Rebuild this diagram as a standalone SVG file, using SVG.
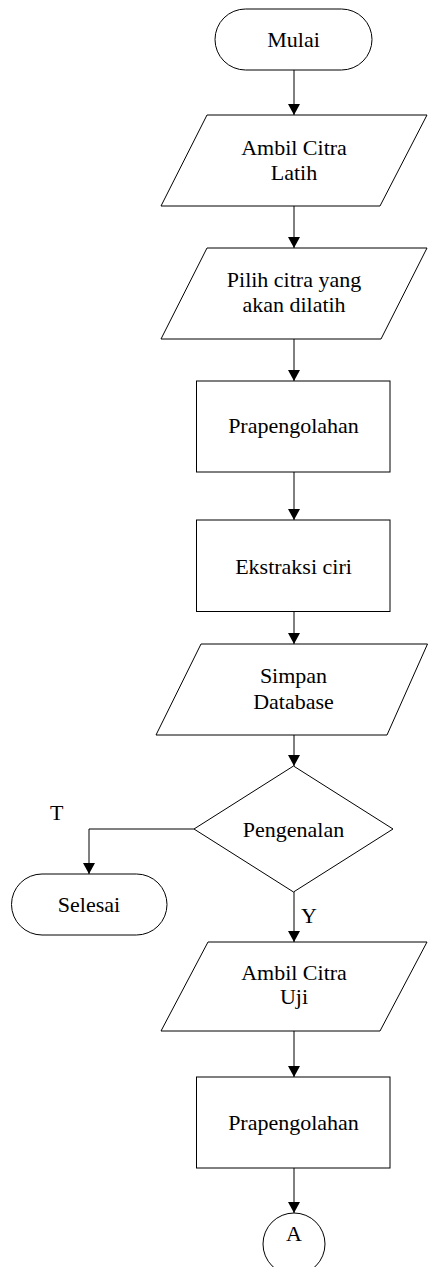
<svg xmlns="http://www.w3.org/2000/svg" width="428" height="1267" viewBox="0 0 428 1267">
<style>
.s{fill:#fff;stroke:#000;stroke-width:1}
.c{fill:none;stroke:#000;stroke-width:1}
</style>
<defs>
<marker id="ah" markerUnits="userSpaceOnUse" markerWidth="12" markerHeight="12" refX="11" refY="6" orient="auto">
<path d="M0,0 L11,6 L0,12 z" fill="#000"/>
</marker>
</defs>
<rect width="428" height="1267" fill="#fff"/>
<g font-family="Liberation Serif, Times New Roman, serif" font-size="22" fill="#000">
<g id="connectors">
<line class="c" x1="294" y1="70" x2="294" y2="115" marker-end="url(#ah)"/>
<line class="c" x1="294" y1="206" x2="294" y2="248" marker-end="url(#ah)"/>
<line class="c" x1="294" y1="339" x2="294" y2="381" marker-end="url(#ah)"/>
<line class="c" x1="294" y1="472" x2="294" y2="520" marker-end="url(#ah)"/>
<line class="c" x1="294" y1="612" x2="294" y2="644" marker-end="url(#ah)"/>
<line class="c" x1="294" y1="735" x2="294" y2="766" marker-end="url(#ah)"/>
<polyline class="c" points="194,829 89,829 89,874" marker-end="url(#ah)"/>
<line class="c" x1="294" y1="892" x2="294" y2="942" marker-end="url(#ah)"/>
<line class="c" x1="294" y1="1031" x2="294" y2="1077" marker-end="url(#ah)"/>
<line class="c" x1="294" y1="1168" x2="294" y2="1213" marker-end="url(#ah)"/>
<text x="50" y="820">T</text>
<text x="301" y="923">Y</text>
</g>
<g text-anchor="middle">
<g id="mulai">
<rect class="s" x="215" y="9" width="157" height="61" rx="30.5"/>
<text x="293.5" y="47">Mulai</text>
</g>
<g id="ambil-latih">
<polygon class="s" points="207,115 427,115 380,206 161,206"/>
<text x="294" y="155">Ambil Citra</text>
<text x="294" y="180">Latih</text>
</g>
<g id="pilih">
<polygon class="s" points="207,248 427,248 381,339 161,339"/>
<text x="294" y="287">Pilih citra yang</text>
<text x="294" y="312">akan dilatih</text>
</g>
<g id="prapengolahan1">
<rect class="s" x="196.5" y="381" width="193.5" height="91"/>
<text x="293.5" y="432.5">Prapengolahan</text>
</g>
<g id="ekstraksi">
<rect class="s" x="196.5" y="520" width="193.5" height="91.5"/>
<text x="293.5" y="573.5">Ekstraksi ciri</text>
</g>
<g id="simpan">
<polygon class="s" points="201,644 427.5,644 387,735 156,735"/>
<text x="293.5" y="683">Simpan</text>
<text x="293.5" y="709">Database</text>
</g>
<g id="pengenalan">
<polygon class="s" points="293.5,766 393,829 293.5,892 194,829"/>
<text x="293.5" y="836.5">Pengenalan</text>
</g>
<g id="selesai">
<rect class="s" x="11.5" y="874" width="155.5" height="61" rx="30.5"/>
<text x="89" y="911.5">Selesai</text>
</g>
<g id="ambil-uji">
<polygon class="s" points="208,942 427,942 380,1031 161,1031"/>
<text x="294" y="980">Ambil Citra</text>
<text x="294" y="1004">Uji</text>
</g>
<g id="prapengolahan2">
<rect class="s" x="196.5" y="1077" width="193.5" height="91"/>
<text x="293.5" y="1129.5">Prapengolahan</text>
</g>
<g id="connector-a">
<circle class="s" cx="294" cy="1244" r="31"/>
<text x="294" y="1240.5">A</text>
</g>
</g>
</g>
</svg>
